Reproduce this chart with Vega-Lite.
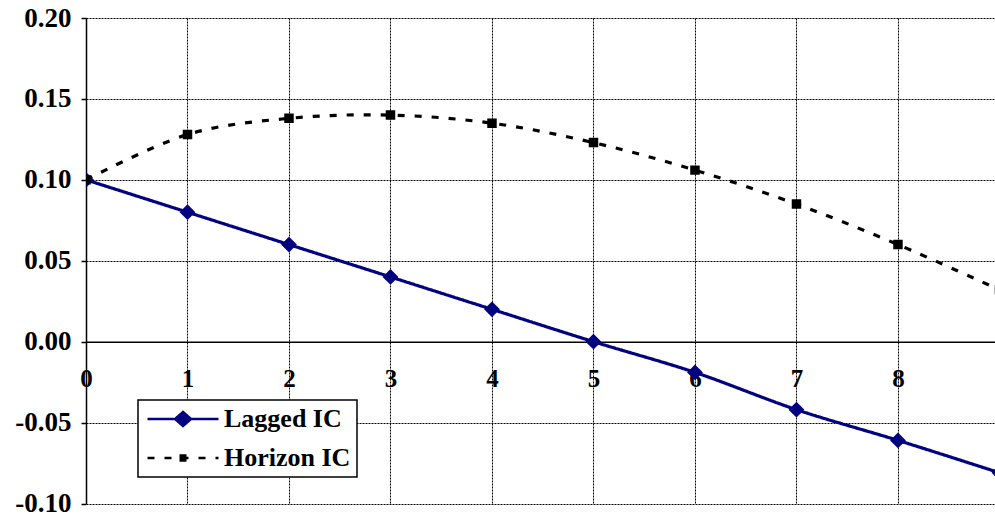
{
  "$schema": "https://vega.github.io/schema/vega-lite/v6.json",
  "width": 909,
  "height": 485.5,
  "autosize": {"type": "none"},
  "padding": {"left": 86, "top": 18, "right": 0, "bottom": 14},
  "background": "white",
  "config": {"view": {"stroke": null}, "font": "Liberation Serif", "legend": {"strokeWidth": 1.5}},
  "data": {
    "values": [
      {"lag": 0, "series": "Lagged IC", "ic": 0.100},
      {"lag": 1, "series": "Lagged IC", "ic": 0.080},
      {"lag": 2, "series": "Lagged IC", "ic": 0.060},
      {"lag": 3, "series": "Lagged IC", "ic": 0.040},
      {"lag": 4, "series": "Lagged IC", "ic": 0.020},
      {"lag": 5, "series": "Lagged IC", "ic": 0.000},
      {"lag": 6, "series": "Lagged IC", "ic": -0.019},
      {"lag": 7, "series": "Lagged IC", "ic": -0.042},
      {"lag": 8, "series": "Lagged IC", "ic": -0.061},
      {"lag": 9, "series": "Lagged IC", "ic": -0.081},
      {"lag": 0, "series": "Horizon IC", "ic": 0.100},
      {"lag": 1, "series": "Horizon IC", "ic": 0.128},
      {"lag": 2, "series": "Horizon IC", "ic": 0.138},
      {"lag": 3, "series": "Horizon IC", "ic": 0.140},
      {"lag": 4, "series": "Horizon IC", "ic": 0.135},
      {"lag": 5, "series": "Horizon IC", "ic": 0.123},
      {"lag": 6, "series": "Horizon IC", "ic": 0.106},
      {"lag": 7, "series": "Horizon IC", "ic": 0.085},
      {"lag": 8, "series": "Horizon IC", "ic": 0.060},
      {"lag": 9, "series": "Horizon IC", "ic": 0.032}
    ]
  },
  "encoding": {
    "x": {
      "field": "lag",
      "type": "quantitative",
      "scale": {"domain": [0, 8.956], "nice": false, "zero": false},
      "axis": {
        "title": null,
        "values": [0, 1, 2, 3, 4, 5, 6, 7, 8, 9],
        "format": "d",
        "offset": -161.8,
        "grid": true,
        "gridColor": "#000000",
        "gridDash": [2, 1],
        "gridWidth": 1,
        "gridOpacity": 1,
        "domain": true,
        "domainColor": "#000000",
        "domainWidth": 1.5,
        "ticks": false,
        "labelFont": "Liberation Serif",
        "labelFontWeight": "bold",
        "labelFontSize": 25,
        "labelColor": "#000000",
        "labelPadding": 25,
        "labelBaseline": "top",
        "labelFlush": false,
        "labelOverlap": false
      }
    },
    "y": {
      "field": "ic",
      "type": "quantitative",
      "scale": {"domain": [-0.1, 0.2], "nice": false, "zero": false},
      "axis": {
        "title": null,
        "values": [-0.1, -0.05, 0, 0.05, 0.1, 0.15, 0.2],
        "labelExpr": "replace(format(datum.value, '.2f'), '\u2212', '-')",
        "grid": true,
        "gridColor": "#000000",
        "gridDash": [2, 1],
        "gridWidth": 1,
        "gridOpacity": 1,
        "domain": true,
        "domainColor": "#000000",
        "domainWidth": 1.5,
        "ticks": true,
        "tickColor": "#000000",
        "tickSize": 5,
        "tickWidth": 1.5,
        "labelFont": "Liberation Serif",
        "labelFontWeight": "bold",
        "labelFontSize": 27,
        "labelColor": "#000000",
        "labelPadding": 10,
        "labelFlush": false,
        "labelOverlap": false
      }
    }
  },
  "layer": [
    {
      "mark": {"type": "line", "interpolate": "cardinal", "strokeWidth": 3.2, "clip": true},
      "encoding": {
        "detail": {"field": "series", "type": "nominal"},
        "color": {"condition": {"test": "datum.series === 'Lagged IC'", "value": "#000080"}, "value": "#000000"},
        "strokeDash": {"condition": {"test": "datum.series === 'Lagged IC'", "value": [1, 0]}, "value": [7, 10]}
      }
    },
    {
      "mark": {"type": "point", "filled": true, "opacity": 1, "clip": true},
      "encoding": {
        "color": {"condition": {"test": "datum.series === 'Lagged IC'", "value": "#000080"}, "value": "#000000"},
        "shape": {"condition": {"test": "datum.series === 'Lagged IC'", "value": "diamond"}, "value": "square"},
        "size": {"condition": {"test": "datum.series === 'Lagged IC'", "value": 250}, "value": 90}
      }
    },
    {
      "mark": {"type": "point", "filled": false, "opacity": 0, "strokeWidth": 2.5, "size": 400, "clip": true},
      "encoding": {
        "stroke": {
          "field": "series",
          "type": "nominal",
          "scale": {"domain": ["Lagged IC", "Horizon IC"], "range": ["#000080", "#000000"]},
          "legend": {
            "title": null,
            "orient": "none",
            "legendX": 52,
            "legendY": 382,
            "direction": "vertical",
            "fillColor": "#ffffff",
            "strokeColor": "#000000",
            "padding": 6,
            "symbolSize": 400,
            "symbolOffset": 26,
            "symbolStrokeWidth": 2.5,
            "symbolOpacity": 1,
            "labelOffset": 28,
            "rowPadding": 13,
            "labelFont": "Liberation Serif",
            "labelFontWeight": "bold",
            "labelFontSize": 26,
            "labelColor": "#000000",
            "labelLimit": 400
          }
        },
        "shape": {
          "field": "series",
          "type": "nominal",
          "scale": {
            "domain": ["Lagged IC", "Horizon IC"],
            "range": [
              "M-3.55,0L3.55,0M-0.8,0L0,-0.7L0.8,0L0,0.7ZM-0.55,0L0,-0.48L0.55,0L0,0.48ZM-0.3,0L0,-0.26L0.3,0L0,0.26ZM-0.08,0L0,-0.06L0.08,0L0,0.06Z",
              "M-3.55,0L3.55,0M-0.35,-0.25L0.35,-0.25M-0.35,0L0.35,0M-0.35,0.25L0.35,0.25"
            ]
          }
        },
        "strokeDash": {
          "field": "series",
          "type": "nominal",
          "scale": {"domain": ["Lagged IC", "Horizon IC"], "range": [[1, 0], [7, 10]]}
        }
      }
    }
  ]
}
